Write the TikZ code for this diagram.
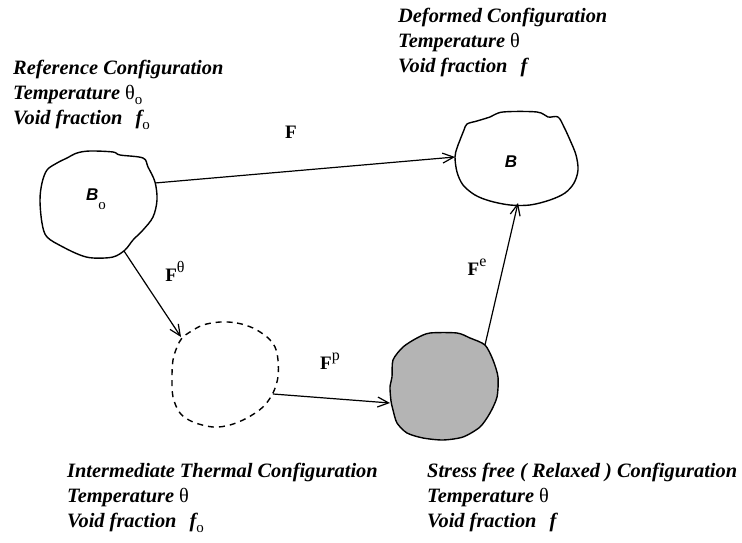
\documentclass[tikz,border=0pt]{standalone}
\usepackage{fontspec}
\setmainfont{Liberation Serif}
\newfontfamily\bodysans{Liberation Sans}
\usetikzlibrary{arrows.meta}

% small upright "o" set below the line, and an upright theta
\newcommand{\lowo}{{\normalfont\fontsize{15}{15}\selectfont\raisebox{-5pt}{o}}}
\newcommand{\thetaup}{{\normalfont θ}}
\newcommand{\supsym}[1]{\raisebox{9pt}{\normalfont\fontsize{16}{16}\selectfont #1}}

\definecolor{relaxgray}{RGB}{180,180,180}

\begin{document}
\begin{tikzpicture}[x=1pt,y=-1pt,
  caption/.style={anchor=north west, align=left, inner sep=0pt,
    font=\fontsize{20.4}{25}\selectfont\bfseries\itshape},
  maplabel/.style={inner sep=0pt, font=\fontsize{19}{19}\selectfont\bfseries},
  bodylabel/.style={inner sep=0pt, font=\fontsize{17}{17}\selectfont\bodysans\bfseries\itshape},
  blob/.style={line width=1.4pt, line join=round},
  mapping/.style={line width=1.2pt, -{Straight Barb[length=11pt,width=10pt,line width=1.2pt]}},
]
\useasboundingbox (0,0) rectangle (742,543);

% ---- configuration captions
\node[caption] (refcap) at (13,60)
  {Reference Configuration\\ Temperature \thetaup\lowo\\ Void fraction\hspace{13pt}f\lowo};
\node[caption] (defcap) at (398,8)
  {Deformed Configuration\\ Temperature \thetaup\\ Void fraction\hspace{13pt}f};
\node[caption] (midcap) at (67,463)
  {Intermediate Thermal Configuration\\ Temperature \thetaup\\ Void fraction\hspace{13pt}f\lowo};
\node[caption] (relcap) at (427,463)
  {Stress free ( Relaxed ) Configuration\\ Temperature \thetaup\\ Void fraction\hspace{13pt}f};

% ---- reference body B_o
\draw[blob] plot[smooth cycle, tension=0.55] coordinates {
  (77,153) (90,151) (113,152) (120,155) (143,158) (148,167) (155,182)
  (157,200) (153,217) (143,230) (133,240) (125,250) (113,257) (93,258)
  (80,255) (63,247) (47,237) (42,223) (40,200) (42,183) (47,170)
  (57,163) (67,158)};
\node[bodylabel] (B0lab) at (96,199) {B\raisebox{-9pt}{\normalfont\fontsize{15}{15}\selectfont o}};

% ---- deformed body B
\draw[blob] plot[smooth cycle, tension=0.55] coordinates {
  (503,112) (537,112) (548,117) (558,117) (564,127) (570,140) (576,155)
  (578,170) (574,183) (565,193) (550,200) (530,205) (510,205) (490,201)
  (475,195) (463,185) (457,172) (455,157) (457,148) (460,140) (464,130)
  (467,124) (477,121) (490,117)};
\node[bodylabel] (Blab) at (511,162) {B};

% ---- intermediate thermal configuration (dashed)
\draw[blob, dash pattern=on 6pt off 5pt] plot[smooth cycle, tension=0.55] coordinates {
  (220,322) (237,323) (253,328) (267,337) (275,347) (278,360) (278,377)
  (273,393) (263,407) (247,418) (230,425) (213,427) (193,422) (180,413)
  (173,397) (172,377) (173,360) (177,347) (182,338) (190,332) (203,325)};

% ---- stress free (relaxed) configuration (shaded)
\draw[blob, fill=relaxgray] plot[smooth cycle, tension=0.45] coordinates {
  (430,333) (457,333) (470,338) (485,345) (493,360) (498,377) (497,397)
  (490,413) (480,427) (463,437) (443,440) (423,438) (407,433) (397,423)
  (393,410) (391,401) (390,387) (392,377) (393,360) (403,347) (417,338)};

% ---- attachment points of the mappings
\coordinate (B0-east)  at (155,183);
\coordinate (B-west)   at (455,157);
\coordinate (B0-south) at (124,251);
\coordinate (Mid-nw)   at (181,337);
\coordinate (Mid-east) at (273,394);
\coordinate (Rel-west) at (390,403);
\coordinate (Rel-ne)   at (485,345);
\coordinate (B-south)  at (518,203);

% ---- mappings
\draw[mapping] (B0-east) -- (B-west);
\draw[mapping] (B0-south) -- (Mid-nw);
\draw[mapping] (Mid-east) -- (Rel-west);
\draw[mapping] (Rel-ne) -- (B-south);

\node[maplabel] (Flab)   at (291,132) {F};
\node[maplabel] (Fthlab) at (175,271) {F\supsym{θ}};
\node[maplabel] (Fplab)  at (330,361) {F\supsym{p}};
\node[maplabel] (Felab)  at (477,267) {F\supsym{e}};
\end{tikzpicture}
\end{document}
